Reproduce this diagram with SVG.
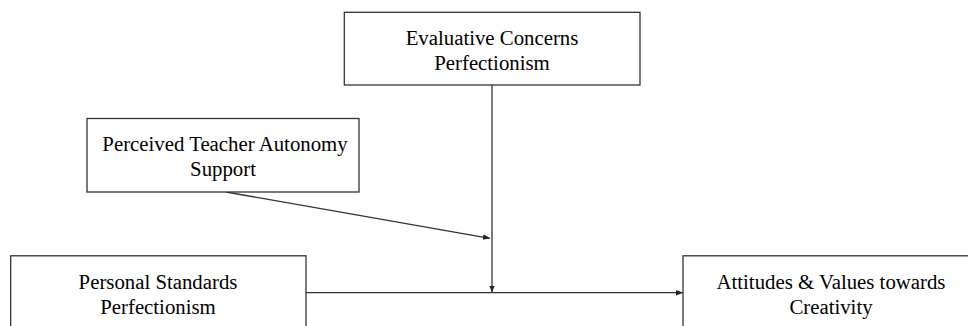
<svg xmlns="http://www.w3.org/2000/svg" width="968" height="326" viewBox="0 0 968 326">
<defs>
<style>
.box{fill:#fff;stroke:#333;stroke-width:1.3}
.lbl{font-family:"Liberation Serif","Times New Roman",serif;font-size:20.8px;fill:#000;text-anchor:middle}
.conn{fill:none;stroke:#333;stroke-width:1.3}
</style>
<marker id="ah" viewBox="0 0 10 10" refX="10" refY="5" markerWidth="7" markerHeight="7" markerUnits="userSpaceOnUse" orient="auto">
<path d="M0,1 L10,5 L0,9 Z" fill="#222"/>
</marker>
</defs>
<rect width="968" height="326" fill="#fff"/>
<g id="connectors">
<line class="conn" x1="492" y1="85" x2="492" y2="292.5" marker-end="url(#ah)"/>
<line class="conn" x1="226" y1="192" x2="490" y2="238.3" marker-end="url(#ah)"/>
<line class="conn" x1="306" y1="292.7" x2="683" y2="292.7" marker-end="url(#ah)"/>
</g>
<g id="evaluative">
<rect class="box" x="344.3" y="12.3" width="295.7" height="72.7"/>
<text class="lbl" x="492" y="44.5">Evaluative Concerns</text>
<text class="lbl" x="492" y="70">Perfectionism</text>
</g>
<g id="teacher">
<rect class="box" x="87" y="118.5" width="272" height="73.5"/>
<text class="lbl" x="225" y="150.5">Perceived Teacher Autonomy</text>
<text class="lbl" x="223" y="176">Support</text>
</g>
<g id="personal">
<rect class="box" x="10.7" y="255.8" width="295.3" height="90"/>
<text class="lbl" x="158" y="289">Personal Standards</text>
<text class="lbl" x="158" y="313.5">Perfectionism</text>
</g>
<g id="attitudes">
<rect class="box" x="683" y="255.8" width="296" height="90"/>
<text class="lbl" x="831" y="289">Attitudes &amp; Values towards</text>
<text class="lbl" x="831" y="314">Creativity</text>
</g>
</svg>
